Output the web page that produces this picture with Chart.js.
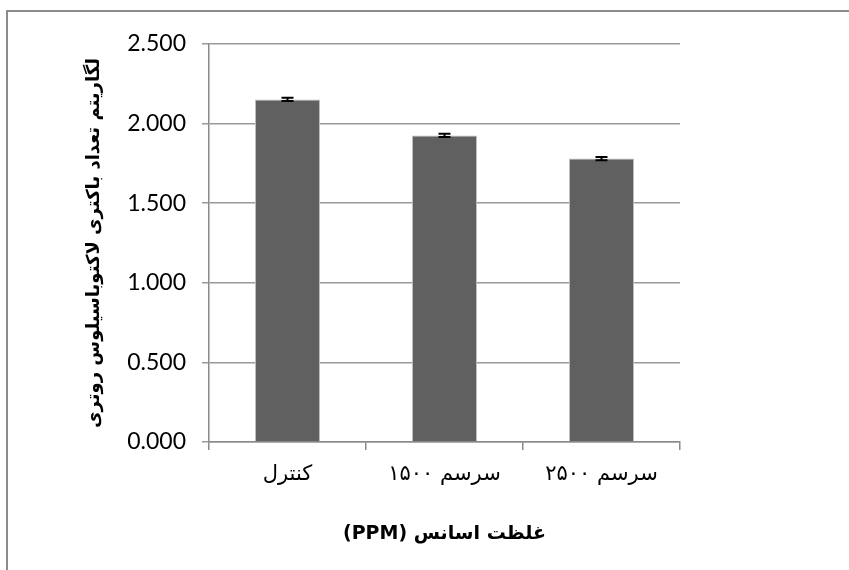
<!DOCTYPE html>
<html>
<head>
<meta charset="utf-8">
<script src="https://cdn.jsdelivr.net/npm/chart.js@4.4.1/dist/chart.umd.min.js"></script>
<style>
html,body{margin:0;padding:0;background:#fff;}
#wrap{width:849px;height:570px;position:relative;}
</style>
</head>
<body>
<div id="wrap"><canvas id="c" dir="rtl"></canvas></div>
<script>
const categories = ["کنترل", "سرسم ۱۵۰۰", "سرسم ۲۵۰۰"];
const values = [2.152, 1.926, 1.780];
const errors = [0.010, 0.010, 0.010];
const yTicks = [0, 0.5, 1.0, 1.5, 2.0, 2.5];
const yTitle = "لگاریتم تعداد باکتری لاکتوباسیلوس روتری";
const xTitle = "غلظت اسانس (PPM)";

const frame = {
  id: 'frame',
  beforeDraw(chart) {
    const ctx = chart.ctx;
    ctx.save();
    ctx.fillStyle = '#ffffff';
    ctx.fillRect(0, 0, chart.width, chart.height);
    ctx.strokeStyle = '#8c8c8c';
    ctx.lineWidth = 2;
    ctx.beginPath();
    ctx.moveTo(7, chart.height + 5);
    ctx.lineTo(7, 11);
    ctx.lineTo(chart.width + 5, 11);
    ctx.stroke();
    ctx.restore();
  }
};

const errorBars = {
  id: 'errorBars',
  afterDatasetsDraw(chart) {
    const ctx = chart.ctx;
    const meta = chart.getDatasetMeta(0);
    const ys = chart.scales.y;
    ctx.save();
    ctx.strokeStyle = '#000000';
    ctx.lineWidth = 2;
    meta.data.forEach((bar, i) => {
      const x = bar.x;
      const yt = ys.getPixelForValue(values[i] + errors[i]);
      const yb = ys.getPixelForValue(values[i] - errors[i]);
      ctx.beginPath();
      ctx.moveTo(x, yt); ctx.lineTo(x, yb);
      ctx.moveTo(x - 6, yt); ctx.lineTo(x + 6, yt);
      ctx.moveTo(x - 6, yb); ctx.lineTo(x + 6, yb);
      ctx.stroke();
    });
    ctx.restore();
  }
};

new Chart(document.getElementById('c'), {
  type: 'bar',
  data: {
    labels: categories,
    datasets: [{
      data: values,
      backgroundColor: '#606060',
      borderColor: '#bdbdbd',
      borderWidth: 1,
      barPercentage: 0.414,
      categoryPercentage: 1.0
    }]
  },
  options: {
    responsive: true,
    maintainAspectRatio: false,
    animation: false,
    layout: { padding: { left: 80, top: 44, right: 169, bottom: 20 } },
    plugins: { legend: { display: false }, tooltip: { enabled: false } },
    scales: {
      x: {
        afterFit(s) { s.height = 108; },
        grid: { drawOnChartArea: false, drawTicks: true, tickLength: 8, color: '#8a8a8a', lineWidth: 1.5 },
        border: { color: '#8a8a8a', width: 1.5 },
        ticks: { color: '#000', padding: 12, font: { family: "'DejaVu Sans', 'Noto Sans'", size: 21 } },
        title: { display: true, text: xTitle, color: '#000', padding: { top: 0, bottom: 5 },
                 font: { family: "'DejaVu Sans', 'Noto Sans'", size: 19, weight: 'bold' } }
      },
      y: {
        min: 0, max: 2.5,
        afterFit(s) { s.width = 129; },
        afterBuildTicks(s) { s.ticks = yTicks.map(v => ({ value: v })); },
        grid: { color: '#9a9a9a', lineWidth: 1.5, drawTicks: true, tickLength: 7 },
        border: { color: '#8a8a8a', width: 1.5 },
        ticks: { color: '#000', padding: 16, font: { family: "Lato, 'Open Sans'", size: 23 },
                 callback: v => Number(v).toFixed(3) },
        title: { display: true, text: yTitle, color: '#000', padding: { top: 4, bottom: 0 },
                 font: { family: "'DejaVu Sans', 'Noto Sans'", size: 18, weight: 'bold' } }
      }
    }
  },
  plugins: [frame, errorBars]
});
</script>
</body>
</html>
